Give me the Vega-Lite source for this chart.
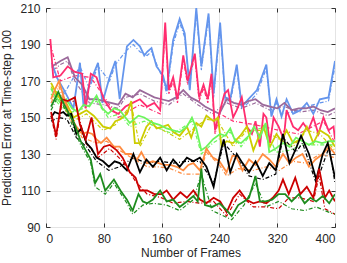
{
"$schema": "https://vega.github.io/schema/vega-lite/v6.json",
"width": 289, "height": 219,
"autosize": {"type": "none"},
"padding": {"left": 46, "top": 8, "right": 12, "bottom": 36},
"config": {"view": {"stroke": "#333333", "strokeWidth": 1}, "font": "Liberation Sans"},
"datasets": {
"solid": [
{"s":"blue","x":8,"v":180},{"s":"blue","x":15,"v":172},{"s":"blue","x":25,"v":165},{"s":"blue","x":38,"v":155},{"s":"blue","x":47,"v":180},{"s":"blue","x":52,"v":156},{"s":"blue","x":60,"v":168},{"s":"blue","x":72,"v":180},{"s":"blue","x":78,"v":158},{"s":"blue","x":88,"v":172},{"s":"blue","x":96,"v":181},{"s":"blue","x":102,"v":160},{"s":"blue","x":112,"v":189},{"s":"blue","x":121,"v":192.5},{"s":"blue","x":130,"v":189},{"s":"blue","x":136,"v":184},{"s":"blue","x":140,"v":186},{"s":"blue","x":146,"v":188},{"s":"blue","x":153,"v":178},{"s":"blue","x":162,"v":173},{"s":"blue","x":167,"v":165},{"s":"blue","x":176,"v":192.5},{"s":"blue","x":185,"v":204},{"s":"blue","x":192,"v":196},{"s":"blue","x":199,"v":165},{"s":"blue","x":208,"v":210},{"s":"blue","x":215,"v":178},{"s":"blue","x":225,"v":207},{"s":"blue","x":232,"v":163},{"s":"blue","x":241,"v":202},{"s":"blue","x":248,"v":161},{"s":"blue","x":255,"v":160},{"s":"blue","x":264,"v":179},{"s":"blue","x":271,"v":156},{"s":"blue","x":280,"v":160},{"s":"blue","x":292,"v":165},{"s":"blue","x":305,"v":179},{"s":"blue","x":312,"v":150.5},{"s":"blue","x":319,"v":160},{"s":"blue","x":326,"v":150.5},{"s":"blue","x":333,"v":160},{"s":"blue","x":342,"v":152},{"s":"blue","x":352,"v":154},{"s":"blue","x":361,"v":158},{"s":"blue","x":370,"v":152},{"s":"blue","x":379,"v":160},{"s":"blue","x":391,"v":161},{"s":"blue","x":400,"v":181},
{"s":"purple","x":8,"v":178},{"s":"purple","x":20,"v":181},{"s":"purple","x":30,"v":183},{"s":"purple","x":40,"v":172},{"s":"purple","x":50,"v":168},{"s":"purple","x":60,"v":160},{"s":"purple","x":70,"v":160},{"s":"purple","x":80,"v":159},{"s":"purple","x":90,"v":158},{"s":"purple","x":100,"v":157},{"s":"purple","x":110,"v":163},{"s":"purple","x":120,"v":161},{"s":"purple","x":130,"v":165},{"s":"purple","x":140,"v":163},{"s":"purple","x":150,"v":161},{"s":"purple","x":160,"v":160},{"s":"purple","x":170,"v":159},{"s":"purple","x":180,"v":161},{"s":"purple","x":190,"v":165},{"s":"purple","x":200,"v":161},{"s":"purple","x":210,"v":159},{"s":"purple","x":220,"v":156},{"s":"purple","x":230,"v":154},{"s":"purple","x":240,"v":152},{"s":"purple","x":250,"v":160},{"s":"purple","x":260,"v":158},{"s":"purple","x":270,"v":157},{"s":"purple","x":280,"v":159},{"s":"purple","x":290,"v":160},{"s":"purple","x":300,"v":157},{"s":"purple","x":310,"v":156},{"s":"purple","x":320,"v":155},{"s":"purple","x":330,"v":158},{"s":"purple","x":340,"v":154},{"s":"purple","x":350,"v":155},{"s":"purple","x":360,"v":155},{"s":"purple","x":370,"v":156},{"s":"purple","x":380,"v":154},{"s":"purple","x":390,"v":153},{"s":"purple","x":400,"v":155},
{"s":"pink","x":6,"v":193},{"s":"pink","x":10,"v":172},{"s":"pink","x":20,"v":173},{"s":"pink","x":30,"v":178},{"s":"pink","x":40,"v":175},{"s":"pink","x":50,"v":174},{"s":"pink","x":55,"v":155},{"s":"pink","x":62,"v":174},{"s":"pink","x":70,"v":172},{"s":"pink","x":80,"v":160},{"s":"pink","x":90,"v":154},{"s":"pink","x":100,"v":152},{"s":"pink","x":110,"v":156},{"s":"pink","x":120,"v":158},{"s":"pink","x":130,"v":160},{"s":"pink","x":140,"v":156},{"s":"pink","x":150,"v":158},{"s":"pink","x":158,"v":154},{"s":"pink","x":165,"v":202},{"s":"pink","x":170,"v":165},{"s":"pink","x":176,"v":172},{"s":"pink","x":182,"v":160},{"s":"pink","x":190,"v":184},{"s":"pink","x":196,"v":170},{"s":"pink","x":206,"v":185},{"s":"pink","x":212,"v":161},{"s":"pink","x":218,"v":168},{"s":"pink","x":224,"v":160},{"s":"pink","x":229,"v":174},{"s":"pink","x":234,"v":143},{"s":"pink","x":241,"v":154},{"s":"pink","x":247,"v":163},{"s":"pink","x":252,"v":165},{"s":"pink","x":259,"v":150},{"s":"pink","x":264,"v":154},{"s":"pink","x":271,"v":161},{"s":"pink","x":278,"v":145},{"s":"pink","x":285,"v":141},{"s":"pink","x":290,"v":148},{"s":"pink","x":296,"v":134},{"s":"pink","x":301,"v":152},{"s":"pink","x":305,"v":150},{"s":"pink","x":310,"v":136},{"s":"pink","x":315,"v":150},{"s":"pink","x":322,"v":145},{"s":"pink","x":329,"v":138},{"s":"pink","x":333,"v":154},{"s":"pink","x":342,"v":145},{"s":"pink","x":349,"v":143},{"s":"pink","x":356,"v":147},{"s":"pink","x":363,"v":143},{"s":"pink","x":370,"v":150},{"s":"pink","x":377,"v":141},{"s":"pink","x":384,"v":150},{"s":"pink","x":391,"v":143},{"s":"pink","x":398,"v":145},{"s":"pink","x":400,"v":138},
{"s":"yellow","x":7,"v":169},{"s":"yellow","x":12,"v":165},{"s":"yellow","x":20,"v":160},{"s":"yellow","x":28,"v":158},{"s":"yellow","x":38,"v":150},{"s":"yellow","x":47,"v":152},{"s":"yellow","x":56,"v":154},{"s":"yellow","x":66,"v":151},{"s":"yellow","x":79,"v":145},{"s":"yellow","x":89,"v":144},{"s":"yellow","x":96,"v":148},{"s":"yellow","x":103,"v":149},{"s":"yellow","x":112,"v":152},{"s":"yellow","x":118,"v":159},{"s":"yellow","x":123,"v":136},{"s":"yellow","x":130,"v":136},{"s":"yellow","x":139,"v":145},{"s":"yellow","x":146,"v":148},{"s":"yellow","x":153,"v":144},{"s":"yellow","x":162,"v":145},{"s":"yellow","x":169,"v":146},{"s":"yellow","x":176,"v":142},{"s":"yellow","x":185,"v":140},{"s":"yellow","x":195,"v":145},{"s":"yellow","x":201,"v":139},{"s":"yellow","x":208,"v":147},{"s":"yellow","x":215,"v":145},{"s":"yellow","x":222,"v":151},{"s":"yellow","x":232,"v":148},{"s":"yellow","x":238,"v":150},{"s":"yellow","x":243,"v":134},{"s":"yellow","x":250,"v":137},{"s":"yellow","x":259,"v":136},{"s":"yellow","x":269,"v":140},{"s":"yellow","x":278,"v":145},{"s":"yellow","x":287,"v":132},{"s":"yellow","x":294,"v":139},{"s":"yellow","x":301,"v":145},{"s":"yellow","x":310,"v":134},{"s":"yellow","x":319,"v":141},{"s":"yellow","x":326,"v":137},{"s":"yellow","x":333,"v":143},{"s":"yellow","x":342,"v":136},{"s":"yellow","x":352,"v":138},{"s":"yellow","x":361,"v":145},{"s":"yellow","x":370,"v":136},{"s":"yellow","x":379,"v":143},{"s":"yellow","x":391,"v":140},{"s":"yellow","x":400,"v":134},
{"s":"lgreen","x":7,"v":166},{"s":"lgreen","x":12,"v":162},{"s":"lgreen","x":20,"v":158},{"s":"lgreen","x":28,"v":160},{"s":"lgreen","x":36,"v":155},{"s":"lgreen","x":44,"v":153},{"s":"lgreen","x":52,"v":157},{"s":"lgreen","x":60,"v":156},{"s":"lgreen","x":70,"v":162},{"s":"lgreen","x":78,"v":155},{"s":"lgreen","x":86,"v":152},{"s":"lgreen","x":94,"v":155},{"s":"lgreen","x":102,"v":154},{"s":"lgreen","x":110,"v":150},{"s":"lgreen","x":116,"v":147},{"s":"lgreen","x":122,"v":149},{"s":"lgreen","x":128,"v":151},{"s":"lgreen","x":136,"v":150},{"s":"lgreen","x":148,"v":147},{"s":"lgreen","x":157,"v":146},{"s":"lgreen","x":167,"v":144},{"s":"lgreen","x":176,"v":143},{"s":"lgreen","x":185,"v":142},{"s":"lgreen","x":195,"v":145},{"s":"lgreen","x":202,"v":150},{"s":"lgreen","x":208,"v":144},{"s":"lgreen","x":215,"v":132},{"s":"lgreen","x":222,"v":134},{"s":"lgreen","x":231,"v":138},{"s":"lgreen","x":241,"v":141},{"s":"lgreen","x":248,"v":140},{"s":"lgreen","x":255,"v":144},{"s":"lgreen","x":262,"v":137},{"s":"lgreen","x":270,"v":136},{"s":"lgreen","x":281,"v":140},{"s":"lgreen","x":288,"v":145},{"s":"lgreen","x":296,"v":139},{"s":"lgreen","x":304,"v":147},{"s":"lgreen","x":309,"v":131},{"s":"lgreen","x":318,"v":133},{"s":"lgreen","x":328,"v":136},{"s":"lgreen","x":337,"v":134},{"s":"lgreen","x":346,"v":139},{"s":"lgreen","x":355,"v":137},{"s":"lgreen","x":364,"v":135},{"s":"lgreen","x":373,"v":137},{"s":"lgreen","x":382,"v":136},{"s":"lgreen","x":392,"v":137},{"s":"lgreen","x":400,"v":137},
{"s":"orange","x":7,"v":160},{"s":"orange","x":12,"v":165},{"s":"orange","x":18,"v":170},{"s":"orange","x":24,"v":162},{"s":"orange","x":32,"v":152},{"s":"orange","x":42,"v":145},{"s":"orange","x":50,"v":141},{"s":"orange","x":57,"v":142},{"s":"orange","x":64,"v":141},{"s":"orange","x":70,"v":138},{"s":"orange","x":76,"v":136},{"s":"orange","x":84,"v":139},{"s":"orange","x":94,"v":134},{"s":"orange","x":102,"v":134},{"s":"orange","x":110,"v":130},{"s":"orange","x":118,"v":130},{"s":"orange","x":126,"v":127},{"s":"orange","x":132,"v":131},{"s":"orange","x":140,"v":125},{"s":"orange","x":148,"v":126},{"s":"orange","x":156,"v":125},{"s":"orange","x":163,"v":124},{"s":"orange","x":172,"v":124},{"s":"orange","x":181,"v":123},{"s":"orange","x":190,"v":121},{"s":"orange","x":197,"v":124},{"s":"orange","x":204,"v":125},{"s":"orange","x":213,"v":121},{"s":"orange","x":222,"v":133},{"s":"orange","x":231,"v":128},{"s":"orange","x":240,"v":126},{"s":"orange","x":250,"v":120},{"s":"orange","x":258,"v":129},{"s":"orange","x":263,"v":129},{"s":"orange","x":272,"v":121},{"s":"orange","x":281,"v":127},{"s":"orange","x":290,"v":124},{"s":"orange","x":300,"v":130},{"s":"orange","x":309,"v":127},{"s":"orange","x":318,"v":123},{"s":"orange","x":328,"v":130},{"s":"orange","x":337,"v":125},{"s":"orange","x":346,"v":128},{"s":"orange","x":355,"v":130},{"s":"orange","x":364,"v":123},{"s":"orange","x":373,"v":127},{"s":"orange","x":383,"v":130},{"s":"orange","x":392,"v":134},{"s":"orange","x":400,"v":130},
{"s":"black","x":7,"v":150},{"s":"black","x":12,"v":153},{"s":"black","x":18,"v":152},{"s":"black","x":24,"v":153},{"s":"black","x":29,"v":151},{"s":"black","x":35,"v":152},{"s":"black","x":42,"v":141},{"s":"black","x":49,"v":144},{"s":"black","x":56,"v":136},{"s":"black","x":63,"v":133},{"s":"black","x":70,"v":128},{"s":"black","x":79,"v":126},{"s":"black","x":87,"v":123},{"s":"black","x":95,"v":126},{"s":"black","x":102,"v":125},{"s":"black","x":112,"v":121},{"s":"black","x":121,"v":130},{"s":"black","x":130,"v":120},{"s":"black","x":139,"v":127},{"s":"black","x":148,"v":123},{"s":"black","x":158,"v":128},{"s":"black","x":167,"v":121},{"s":"black","x":176,"v":127},{"s":"black","x":185,"v":123},{"s":"black","x":195,"v":128},{"s":"black","x":204,"v":126},{"s":"black","x":213,"v":128},{"s":"black","x":222,"v":123},{"s":"black","x":232,"v":112},{"s":"black","x":241,"v":130},{"s":"black","x":246,"v":138},{"s":"black","x":255,"v":120},{"s":"black","x":264,"v":130},{"s":"black","x":272,"v":125},{"s":"black","x":281,"v":120},{"s":"black","x":290,"v":126},{"s":"black","x":300,"v":118},{"s":"black","x":309,"v":125},{"s":"black","x":318,"v":121},{"s":"black","x":328,"v":141},{"s":"black","x":337,"v":125},{"s":"black","x":346,"v":133},{"s":"black","x":353,"v":140},{"s":"black","x":364,"v":130},{"s":"black","x":374,"v":116},{"s":"black","x":383,"v":130},{"s":"black","x":390,"v":136},{"s":"black","x":400,"v":117},
{"s":"red","x":7,"v":153},{"s":"red","x":14,"v":140},{"s":"red","x":22,"v":160},{"s":"red","x":30,"v":159},{"s":"red","x":40,"v":161},{"s":"red","x":47,"v":146},{"s":"red","x":55,"v":138},{"s":"red","x":63,"v":150},{"s":"red","x":72,"v":130},{"s":"red","x":80,"v":134},{"s":"red","x":88,"v":135},{"s":"red","x":98,"v":132},{"s":"red","x":106,"v":128},{"s":"red","x":116,"v":120},{"s":"red","x":124,"v":117},{"s":"red","x":130,"v":110},{"s":"red","x":140,"v":110},{"s":"red","x":150,"v":108},{"s":"red","x":160,"v":108},{"s":"red","x":167,"v":110},{"s":"red","x":176,"v":105},{"s":"red","x":186,"v":109},{"s":"red","x":195,"v":106},{"s":"red","x":204,"v":110},{"s":"red","x":213,"v":105},{"s":"red","x":222,"v":103},{"s":"red","x":232,"v":106},{"s":"red","x":241,"v":104},{"s":"red","x":250,"v":98},{"s":"red","x":259,"v":106},{"s":"red","x":268,"v":110},{"s":"red","x":277,"v":105},{"s":"red","x":287,"v":103},{"s":"red","x":296,"v":104},{"s":"red","x":305,"v":103},{"s":"red","x":314,"v":106},{"s":"red","x":322,"v":110},{"s":"red","x":328,"v":116},{"s":"red","x":336,"v":108},{"s":"red","x":345,"v":117},{"s":"red","x":352,"v":108},{"s":"red","x":361,"v":112},{"s":"red","x":370,"v":106},{"s":"red","x":378,"v":122},{"s":"red","x":386,"v":106},{"s":"red","x":392,"v":110},{"s":"red","x":400,"v":104},
{"s":"green","x":7,"v":156},{"s":"green","x":12,"v":160},{"s":"green","x":17,"v":164},{"s":"green","x":24,"v":158},{"s":"green","x":32,"v":152},{"s":"green","x":40,"v":146},{"s":"green","x":48,"v":137},{"s":"green","x":55,"v":132},{"s":"green","x":62,"v":127},{"s":"green","x":68,"v":114},{"s":"green","x":75,"v":119},{"s":"green","x":82,"v":110},{"s":"green","x":88,"v":113},{"s":"green","x":94,"v":116},{"s":"green","x":103,"v":110},{"s":"green","x":112,"v":105},{"s":"green","x":120,"v":99},{"s":"green","x":128,"v":108},{"s":"green","x":134,"v":104},{"s":"green","x":140,"v":103},{"s":"green","x":148,"v":105},{"s":"green","x":158,"v":110},{"s":"green","x":167,"v":104},{"s":"green","x":176,"v":105},{"s":"green","x":185,"v":101},{"s":"green","x":195,"v":104},{"s":"green","x":204,"v":107},{"s":"green","x":210,"v":104},{"s":"green","x":215,"v":122},{"s":"green","x":220,"v":102},{"s":"green","x":230,"v":101},{"s":"green","x":240,"v":103},{"s":"green","x":248,"v":100},{"s":"green","x":257,"v":96},{"s":"green","x":266,"v":102},{"s":"green","x":274,"v":104},{"s":"green","x":281,"v":106},{"s":"green","x":290,"v":118},{"s":"green","x":296,"v":104},{"s":"green","x":304,"v":104},{"s":"green","x":313,"v":105},{"s":"green","x":322,"v":108},{"s":"green","x":331,"v":108},{"s":"green","x":340,"v":104},{"s":"green","x":350,"v":108},{"s":"green","x":358,"v":103},{"s":"green","x":366,"v":106},{"s":"green","x":374,"v":104},{"s":"green","x":383,"v":107},{"s":"green","x":392,"v":103},{"s":"green","x":400,"v":108}
],
"dashed": [
{"s":"blue","x":8,"v":178},{"s":"blue","x":25,"v":163},{"s":"blue","x":47,"v":178},{"s":"blue","x":60,"v":166},{"s":"blue","x":72,"v":178},{"s":"blue","x":88,"v":170},{"s":"blue","x":96,"v":179},{"s":"blue","x":112,"v":187},{"s":"blue","x":121,"v":190},{"s":"blue","x":130,"v":186},{"s":"blue","x":140,"v":184},{"s":"blue","x":146,"v":186},{"s":"blue","x":162,"v":171},{"s":"blue","x":167,"v":163},{"s":"blue","x":176,"v":190},{"s":"blue","x":185,"v":202},{"s":"blue","x":192,"v":194},{"s":"blue","x":199,"v":166},{"s":"blue","x":208,"v":208},{"s":"blue","x":215,"v":176},{"s":"blue","x":225,"v":205},{"s":"blue","x":232,"v":161},{"s":"blue","x":241,"v":200},{"s":"blue","x":248,"v":159},{"s":"blue","x":255,"v":158},{"s":"blue","x":264,"v":177},{"s":"blue","x":271,"v":155},{"s":"blue","x":280,"v":158},{"s":"blue","x":292,"v":163},{"s":"blue","x":305,"v":177},{"s":"blue","x":312,"v":152},{"s":"blue","x":319,"v":158},{"s":"blue","x":326,"v":152},{"s":"blue","x":342,"v":153},{"s":"blue","x":361,"v":156},{"s":"blue","x":379,"v":158},{"s":"blue","x":391,"v":159},{"s":"blue","x":400,"v":178},
{"s":"purple","x":10,"v":176},{"s":"purple","x":20,"v":179},{"s":"purple","x":30,"v":181},{"s":"purple","x":40,"v":170},{"s":"purple","x":60,"v":158},{"s":"purple","x":80,"v":157},{"s":"purple","x":100,"v":155},{"s":"purple","x":110,"v":161},{"s":"purple","x":130,"v":163},{"s":"purple","x":150,"v":159},{"s":"purple","x":170,"v":157},{"s":"purple","x":190,"v":163},{"s":"purple","x":210,"v":157},{"s":"purple","x":230,"v":152},{"s":"purple","x":250,"v":158},{"s":"purple","x":270,"v":155},{"s":"purple","x":290,"v":158},{"s":"purple","x":310,"v":154},{"s":"purple","x":330,"v":156},{"s":"purple","x":350,"v":153},{"s":"purple","x":370,"v":154},{"s":"purple","x":390,"v":151},{"s":"purple","x":400,"v":153},
{"s":"pink","x":6,"v":190},{"s":"pink","x":20,"v":170},{"s":"pink","x":40,"v":173},{"s":"pink","x":62,"v":172},{"s":"pink","x":100,"v":150},{"s":"pink","x":130,"v":157},{"s":"pink","x":158,"v":152},{"s":"pink","x":165,"v":199},{"s":"pink","x":170,"v":163},{"s":"pink","x":176,"v":170},{"s":"pink","x":182,"v":158},{"s":"pink","x":190,"v":182},{"s":"pink","x":196,"v":168},{"s":"pink","x":206,"v":183},{"s":"pink","x":212,"v":159},{"s":"pink","x":218,"v":166},{"s":"pink","x":224,"v":158},{"s":"pink","x":229,"v":172},{"s":"pink","x":234,"v":141},{"s":"pink","x":241,"v":152},{"s":"pink","x":259,"v":148},{"s":"pink","x":290,"v":146},{"s":"pink","x":322,"v":143},{"s":"pink","x":349,"v":141},{"s":"pink","x":384,"v":148},{"s":"pink","x":400,"v":136},
{"s":"yellow","x":7,"v":167},{"s":"yellow","x":20,"v":158},{"s":"yellow","x":38,"v":148},{"s":"yellow","x":56,"v":152},{"s":"yellow","x":79,"v":143},{"s":"yellow","x":96,"v":146},{"s":"yellow","x":118,"v":157},{"s":"yellow","x":130,"v":134},{"s":"yellow","x":146,"v":146},{"s":"yellow","x":162,"v":143},{"s":"yellow","x":185,"v":138},{"s":"yellow","x":208,"v":145},{"s":"yellow","x":222,"v":149},{"s":"yellow","x":238,"v":148},{"s":"yellow","x":259,"v":134},{"s":"yellow","x":278,"v":143},{"s":"yellow","x":301,"v":143},{"s":"yellow","x":319,"v":139},{"s":"yellow","x":342,"v":134},{"s":"yellow","x":361,"v":143},{"s":"yellow","x":379,"v":141},{"s":"yellow","x":400,"v":132},
{"s":"lgreen","x":7,"v":163},{"s":"lgreen","x":20,"v":156},{"s":"lgreen","x":36,"v":153},{"s":"lgreen","x":52,"v":155},{"s":"lgreen","x":70,"v":159},{"s":"lgreen","x":86,"v":150},{"s":"lgreen","x":102,"v":152},{"s":"lgreen","x":116,"v":145},{"s":"lgreen","x":136,"v":148},{"s":"lgreen","x":157,"v":144},{"s":"lgreen","x":176,"v":141},{"s":"lgreen","x":202,"v":148},{"s":"lgreen","x":215,"v":130},{"s":"lgreen","x":231,"v":136},{"s":"lgreen","x":255,"v":142},{"s":"lgreen","x":270,"v":134},{"s":"lgreen","x":288,"v":143},{"s":"lgreen","x":304,"v":145},{"s":"lgreen","x":318,"v":131},{"s":"lgreen","x":337,"v":132},{"s":"lgreen","x":355,"v":135},{"s":"lgreen","x":373,"v":135},{"s":"lgreen","x":392,"v":135},{"s":"lgreen","x":400,"v":135},
{"s":"orange","x":7,"v":158},{"s":"orange","x":18,"v":167},{"s":"orange","x":32,"v":150},{"s":"orange","x":50,"v":139},{"s":"orange","x":70,"v":136},{"s":"orange","x":84,"v":137},{"s":"orange","x":102,"v":132},{"s":"orange","x":118,"v":128},{"s":"orange","x":140,"v":123},{"s":"orange","x":156,"v":123},{"s":"orange","x":172,"v":122},{"s":"orange","x":190,"v":119},{"s":"orange","x":213,"v":119},{"s":"orange","x":222,"v":131},{"s":"orange","x":240,"v":124},{"s":"orange","x":250,"v":118},{"s":"orange","x":266,"v":122},{"s":"orange","x":287,"v":121},{"s":"orange","x":305,"v":123},{"s":"orange","x":323,"v":121},{"s":"orange","x":342,"v":126},{"s":"orange","x":360,"v":125},{"s":"orange","x":379,"v":130},{"s":"orange","x":400,"v":128},
{"s":"black","x":7,"v":148},{"s":"black","x":18,"v":150},{"s":"black","x":29,"v":149},{"s":"black","x":42,"v":139},{"s":"black","x":56,"v":134},{"s":"black","x":70,"v":126},{"s":"black","x":87,"v":121},{"s":"black","x":102,"v":123},{"s":"black","x":121,"v":128},{"s":"black","x":139,"v":125},{"s":"black","x":158,"v":126},{"s":"black","x":176,"v":125},{"s":"black","x":195,"v":126},{"s":"black","x":213,"v":126},{"s":"black","x":232,"v":114},{"s":"black","x":246,"v":136},{"s":"black","x":264,"v":128},{"s":"black","x":281,"v":118},{"s":"black","x":300,"v":116},{"s":"black","x":318,"v":119},{"s":"black","x":328,"v":139},{"s":"black","x":346,"v":131},{"s":"black","x":355,"v":136},{"s":"black","x":374,"v":114},{"s":"black","x":392,"v":134},{"s":"black","x":400,"v":114},
{"s":"red","x":7,"v":151},{"s":"red","x":14,"v":138},{"s":"red","x":22,"v":158},{"s":"red","x":40,"v":159},{"s":"red","x":55,"v":136},{"s":"red","x":72,"v":128},{"s":"red","x":88,"v":133},{"s":"red","x":106,"v":126},{"s":"red","x":124,"v":115},{"s":"red","x":140,"v":108},{"s":"red","x":160,"v":106},{"s":"red","x":176,"v":103},{"s":"red","x":195,"v":104},{"s":"red","x":213,"v":103},{"s":"red","x":232,"v":104},{"s":"red","x":250,"v":96},{"s":"red","x":268,"v":108},{"s":"red","x":287,"v":101},{"s":"red","x":305,"v":101},{"s":"red","x":322,"v":100},{"s":"red","x":336,"v":106},{"s":"red","x":352,"v":106},{"s":"red","x":370,"v":104},{"s":"red","x":378,"v":118},{"s":"red","x":386,"v":100},{"s":"red","x":400,"v":97},
{"s":"green","x":7,"v":154},{"s":"green","x":17,"v":162},{"s":"green","x":32,"v":150},{"s":"green","x":48,"v":135},{"s":"green","x":62,"v":125},{"s":"green","x":68,"v":112},{"s":"green","x":82,"v":108},{"s":"green","x":94,"v":114},{"s":"green","x":112,"v":103},{"s":"green","x":120,"v":97},{"s":"green","x":134,"v":102},{"s":"green","x":148,"v":103},{"s":"green","x":167,"v":102},{"s":"green","x":185,"v":99},{"s":"green","x":204,"v":105},{"s":"green","x":215,"v":119},{"s":"green","x":230,"v":99},{"s":"green","x":257,"v":94},{"s":"green","x":274,"v":102},{"s":"green","x":290,"v":114},{"s":"green","x":304,"v":101},{"s":"green","x":322,"v":104},{"s":"green","x":340,"v":100},{"s":"green","x":358,"v":99},{"s":"green","x":374,"v":101},{"s":"green","x":392,"v":98},{"s":"green","x":400,"v":97}
]
},
"encoding": {
"color": {"field": "s", "type": "nominal", "legend": null,
  "scale": {"domain": ["blue", "purple", "pink", "yellow", "lgreen", "orange", "black", "red", "green"],
            "range": ["#6495ed", "#9b6a9b", "#ff2d6f", "#cccc00", "#6cf55c", "#ff8c40", "#000000", "#cc0000", "#1e8c1e"]}}
},
"layer": [
{"data": {"name": "dashed"}, "mark": {"type": "line", "strokeWidth": 1.2, "strokeDash": [4, 2, 1, 2], "clip": true},
 "encoding": {
  "x": {"field": "x", "type": "quantitative", "scale": {"domain": [0, 400], "nice": false}, "title": "Number of Frames",
   "axis": {"values": [0, 80, 160, 240, 320, 400], "grid": true, "gridColor": "#e4e4e4", "domain": false, "tickSize": -4, "tickColor": "#333333", "labelPadding": 10, "labelFontSize": 12, "labelColor": "#262626", "titleFontSize": 12, "titleFontWeight": "normal", "titleColor": "#262626", "titlePadding": 3}},
  "y": {"field": "v", "type": "quantitative", "scale": {"domain": [90, 210], "nice": false}, "title": "Prediction Error at Time-step 100",
   "axis": {"values": [90, 110, 130, 150, 170, 190, 210], "grid": true, "gridColor": "#e4e4e4", "domain": false, "tickSize": -4, "tickColor": "#333333", "labelPadding": 10, "labelFontSize": 12, "labelColor": "#262626", "titleFontSize": 12, "titleFontWeight": "normal", "titleColor": "#262626", "titlePadding": 6}}
 }},
{"data": {"name": "solid"}, "mark": {"type": "line", "strokeWidth": 1.8, "clip": true},
 "encoding": {
  "x": {"field": "x", "type": "quantitative", "axis": null},
  "y": {"field": "v", "type": "quantitative", "axis": null}
 }},
{"data": {"name": "solid"}, "mark": {"type": "point", "opacity": 0},
 "encoding": {
  "x": {"field": "x", "type": "quantitative", "axis": {"orient": "top", "values": [0, 80, 160, 240, 320, 400], "labels": false, "title": null, "grid": false, "domain": false, "tickSize": -4, "tickColor": "#333333"}},
  "y": {"field": "v", "type": "quantitative", "axis": {"orient": "right", "values": [90, 110, 130, 150, 170, 190, 210], "labels": false, "title": null, "grid": false, "domain": false, "tickSize": -4, "tickColor": "#333333"}}
 }}
],
"resolve": {"axis": {"x": "independent", "y": "independent"}}
}
